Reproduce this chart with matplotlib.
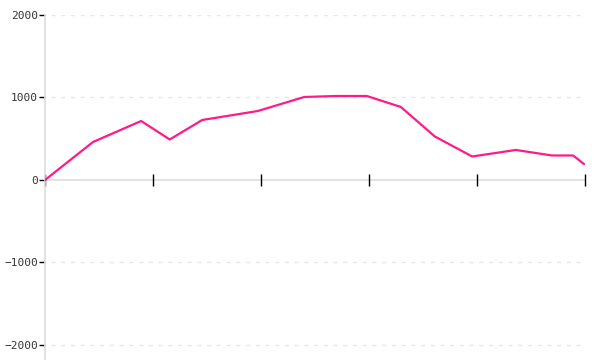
import matplotlib
matplotlib.use("Agg")
import matplotlib.pyplot as plt

x_vals = [0, 8.9, 17.8, 23.1, 29.1, 39.4, 48.0, 53.7, 59.6, 65.9, 72.2, 79.1, 87.2, 93.9, 97.8, 99.8]
y_vals = [0, 461, 715, 491, 727, 836, 1006, 1018, 1018, 885, 527, 285, 364, 297, 297, 194]
y_ticks = [-2000, -1000, 0, 1000, 2000]
x_ticks = [0, 20, 40, 60, 80, 100]

fig = plt.figure(figsize=(6, 3.6), dpi=100)
ax = fig.add_axes([45/600, 0, 540/600, 345/360])
ax.set_xlim(0, 100)
ax.set_ylim(-2182, 2000)

for yv in [-2000, -1000, 1000, 2000]:
    ax.axhline(yv, xmin=0.012, color="#e8e8e8", lw=1, ls=(0, (3, 4)), zorder=0)
ax.axhline(0, color="#dddddd", lw=1.2, zorder=1)

ax.plot(x_vals, y_vals, color="#ff1a8c", lw=1.6, zorder=3)

for s in ["top", "right", "bottom"]:
    ax.spines[s].set_visible(False)
ax.spines["left"].set_color("#dddddd")
ax.spines["left"].set_linewidth(1.2)

ax.set_yticks(y_ticks)
ax.set_yticklabels([str(v).replace("-", "\u2212") for v in y_ticks],
                   family="DejaVu Sans Mono", fontsize=8, color="#333333")
ax.tick_params(axis="y", length=4, width=1, color="black", pad=1)

ax.set_xticks(x_ticks)
ax.set_xticklabels([])
ax.tick_params(axis="x", direction="inout", length=9, width=1, color="black")
ax.spines["bottom"].set_position(("data", 0))

fig.savefig("out.png", dpi=100)
